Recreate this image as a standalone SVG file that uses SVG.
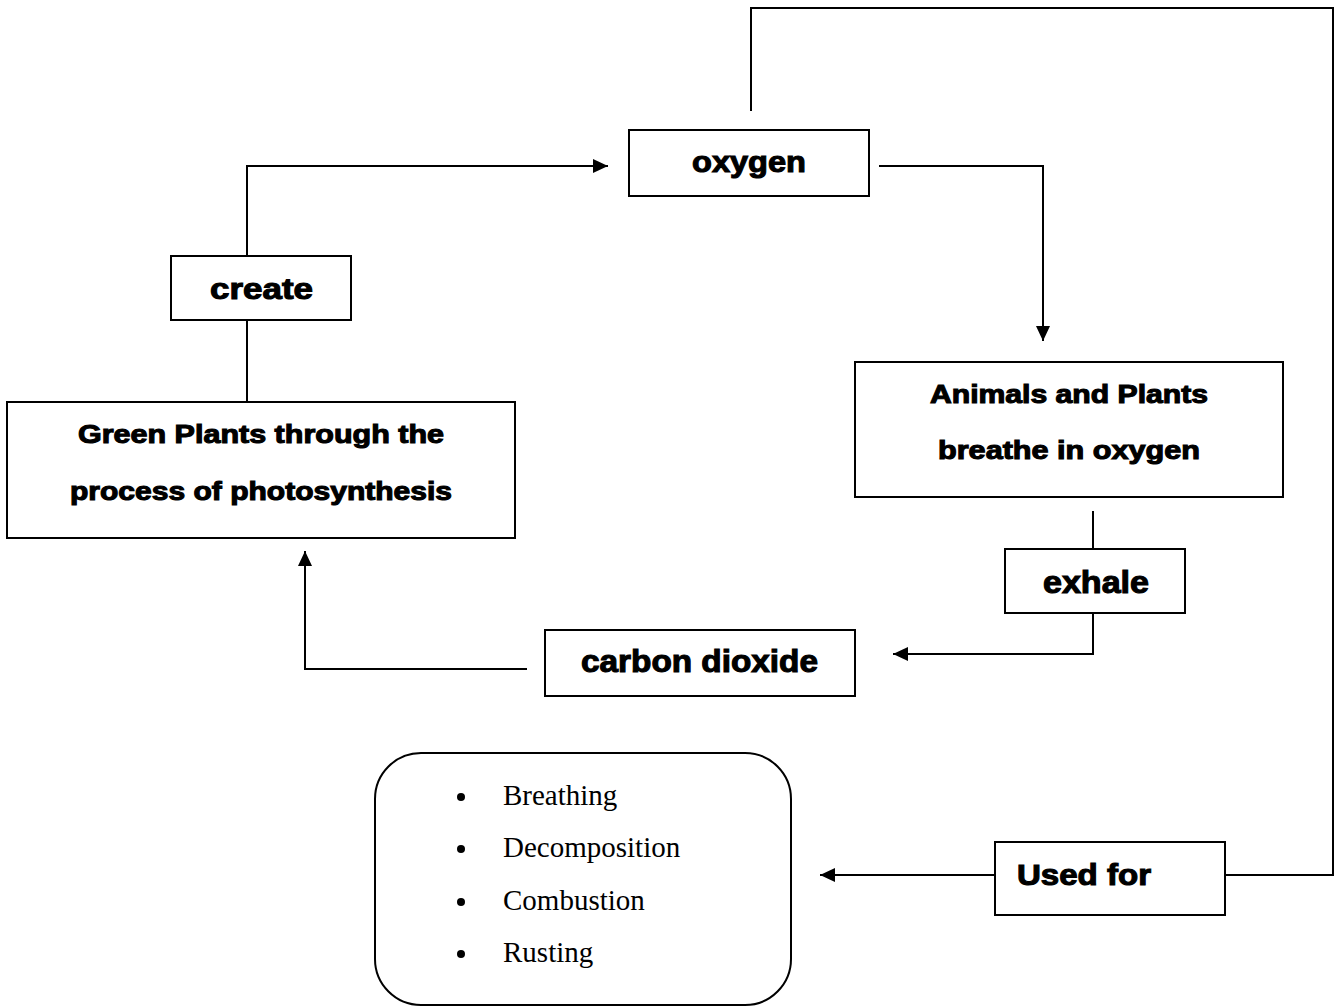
<svg xmlns="http://www.w3.org/2000/svg" width="1335" height="1007" viewBox="0 0 1335 1007">
  <style>
    .box { fill: #fff; stroke: #000; stroke-width: 2; }
    .wire { fill: none; stroke: #000; stroke-width: 2; }
    .lbl { font-family: "Liberation Sans", Arial, sans-serif; font-weight: 900; fill: #000; stroke: #000; stroke-width: 1.1; }
    .item { font-family: "Liberation Serif", "Times New Roman", serif; font-size: 29px; fill: #000; }
  </style>
  <defs>
    <marker id="head" markerUnits="userSpaceOnUse" markerWidth="16" markerHeight="16" viewBox="0 0 16 16" refX="15" refY="8" orient="auto">
      <path d="M0,1 L15,8 L0,15 Z" fill="#000"/>
    </marker>
  </defs>

  <!-- connectors -->
  <g id="connectors">
    <path class="wire" d="M247,256 V166 H608" marker-end="url(#head)"/>
    <path class="wire" d="M247,402 V320"/>
    <path class="wire" d="M879,166 H1043 V341" marker-end="url(#head)"/>
    <path class="wire" d="M1093,511 V549"/>
    <path class="wire" d="M1093,613 V654 H893" marker-end="url(#head)"/>
    <path class="wire" d="M527,669 H305 V551" marker-end="url(#head)"/>
    <path class="wire" d="M751,111 V8 H1333 V875 H1225"/>
    <path class="wire" d="M995,875 H820" marker-end="url(#head)"/>
  </g>

  <g id="oxygen">
    <rect class="box" x="629" y="130" width="240" height="66"/>
    <text class="lbl" x="692" y="172" font-size="30" textLength="114" lengthAdjust="spacingAndGlyphs">oxygen</text>
  </g>

  <g id="create">
    <rect class="box" x="171" y="256" width="180" height="64"/>
    <text class="lbl" x="210" y="299" font-size="30" textLength="103" lengthAdjust="spacingAndGlyphs">create</text>
  </g>

  <g id="green-plants">
    <rect class="box" x="7" y="402" width="508" height="136"/>
    <text class="lbl" x="78" y="443" font-size="26" textLength="366" lengthAdjust="spacingAndGlyphs">Green Plants through the</text>
    <text class="lbl" x="70" y="500" font-size="26" textLength="382" lengthAdjust="spacingAndGlyphs">process of photosynthesis</text>
  </g>

  <g id="animals-plants">
    <rect class="box" x="855" y="362" width="428" height="135"/>
    <text class="lbl" x="930" y="403" font-size="26" textLength="278" lengthAdjust="spacingAndGlyphs">Animals and Plants</text>
    <text class="lbl" x="938" y="459" font-size="26" textLength="262" lengthAdjust="spacingAndGlyphs">breathe in oxygen</text>
  </g>

  <g id="exhale">
    <rect class="box" x="1005" y="549" width="180" height="64"/>
    <text class="lbl" x="1043" y="593" font-size="31" textLength="106" lengthAdjust="spacingAndGlyphs">exhale</text>
  </g>

  <g id="carbon-dioxide">
    <rect class="box" x="545" y="630" width="310" height="66"/>
    <text class="lbl" x="581" y="672" font-size="31" textLength="237" lengthAdjust="spacingAndGlyphs">carbon dioxide</text>
  </g>

  <g id="used-for">
    <rect class="box" x="995" y="842" width="230" height="73"/>
    <text class="lbl" x="1017" y="885" font-size="30" textLength="134" lengthAdjust="spacingAndGlyphs">Used for</text>
  </g>

  <g id="uses">
    <rect class="box" x="375" y="753" width="416" height="252" rx="46" ry="46"/>
    <circle cx="461" cy="797" r="4"/>
    <circle cx="461" cy="849" r="4"/>
    <circle cx="461" cy="902" r="4"/>
    <circle cx="461" cy="954" r="4"/>
    <text class="item" x="503" y="805">Breathing</text>
    <text class="item" x="503" y="857">Decomposition</text>
    <text class="item" x="503" y="910">Combustion</text>
    <text class="item" x="503" y="962">Rusting</text>
  </g>
</svg>
